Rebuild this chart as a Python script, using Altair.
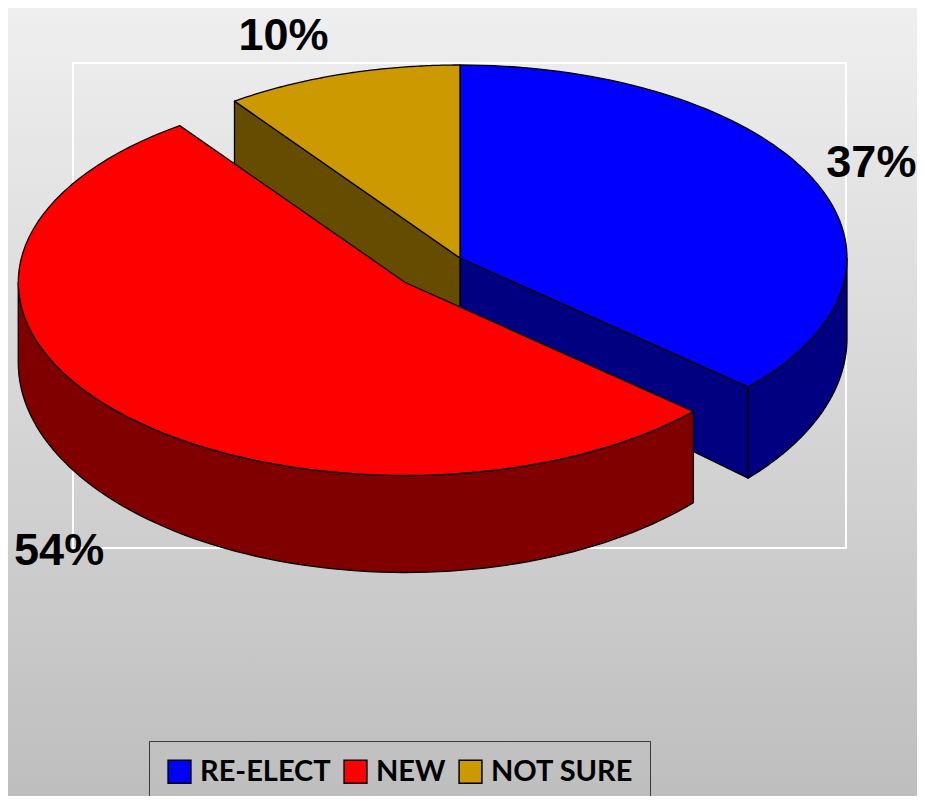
import altair as alt
import pandas as pd

# ---- data ----
categories = ["RE-ELECT", "NEW", "NOT SURE"]
values = [37, 54, 10]
exploded = ["NEW"]

# ---- styles ----
top_colors = ["#0000FF", "#FF0000", "#CC9900"]
side_colors = ["#000080", "#800000", "#664C00"]

W, H = 909, 788
CX, CY = 452, 250      # pie centre (px)
RX, RY = 387, 193      # ellipse radii (px)
D0, DS = 80, 17        # extrusion depth and perspective change
EXPL = 0.19            # explode distance (fraction of radius)
N = 80                 # points per arc

df = pd.DataFrame({"category": categories, "value": values,
                   "idx": list(range(len(categories)))})

X = alt.X("x:Q", scale=alt.Scale(domain=[0, W], nice=False, zero=False), axis=None)
Y = alt.Y("y:Q", scale=alt.Scale(domain=[0, H], nice=False, zero=False, reverse=True), axis=None)

base = (
    alt.Chart(df)
    .transform_window(cum="sum(value)", sort=[alt.SortField("idx")], frame=[None, 0])
    .transform_joinaggregate(total="sum(value)")
    .transform_calculate(
        a1="2*PI*(datum.cum - datum.value)/datum.total",
        a2="2*PI*datum.cum/datum.total",
    )
    .transform_calculate(
        mid="(datum.a1 + datum.a2)/2",
        e=f"indexof({exploded!r}, datum.category) >= 0 ? {EXPL} : 0",
    )
    .transform_calculate(
        ox=f"{CX} + datum.e*{RX}*sin(datum.mid)",
        oy=f"{CY} - datum.e*{RY}*cos(datum.mid)",
    )
)

side_fill = alt.Fill("category:N", scale=alt.Scale(domain=categories, range=side_colors), legend=None)

# radial cut faces that face the viewer
faces = (
    base.transform_calculate(side="[0, 1]")
    .transform_flatten(["side"])
    .transform_calculate(fa="datum.side == 0 ? datum.a1 : datum.a2")
    .transform_filter("(datum.side == 0 && sin(datum.fa) < -0.001) || (datum.side == 1 && sin(datum.fa) > 0.001)")
    .transform_calculate(key="datum.category + '-' + datum.side", pts="sequence(0, 5)")
    .transform_flatten(["pts"], as_=["k"])
    .transform_calculate(edge="datum.k == 1 || datum.k == 2", dn="datum.k == 2 || datum.k == 3")
    .transform_calculate(
        x=f"datum.edge ? datum.ox + {RX}*sin(datum.fa) : datum.ox",
        y=f"(datum.edge ? datum.oy - {RY}*cos(datum.fa) : datum.oy) + (datum.dn ? (datum.edge ? {D0} - {DS}*cos(datum.fa) : {D0}) : 0)",
    )
    .mark_line(stroke="black", strokeWidth=1.3, strokeJoin="round")
    .encode(x=X, y=Y, order="k:Q", detail="key:N", fill=side_fill)
)

# outer walls (front half only)
walls = (
    base.transform_calculate(b1="max(datum.a1, PI/2)", b2="min(datum.a2, 3*PI/2)")
    .transform_filter("datum.b2 > datum.b1")
    .transform_calculate(pts=f"sequence(0, {2 * N + 3})")
    .transform_flatten(["pts"], as_=["k"])
    .transform_calculate(
        bot=f"datum.k > {N} && datum.k <= {2 * N + 1}",
        ang=(f"datum.k <= {N} ? datum.b1 + (datum.b2 - datum.b1)*datum.k/{N} : "
             f"(datum.k <= {2 * N + 1} ? datum.b2 - (datum.b2 - datum.b1)*(datum.k - {N + 1})/{N} : datum.b1)"),
    )
    .transform_calculate(
        x=f"datum.ox + {RX}*sin(datum.ang)",
        y=f"datum.oy - {RY}*cos(datum.ang) + (datum.bot ? {D0} - {DS}*cos(datum.ang) : 0)",
    )
    .mark_line(stroke="black", strokeWidth=1.3, strokeJoin="round")
    .encode(x=X, y=Y, order="k:Q", detail="category:N", fill=side_fill)
)

# top faces
top = (
    base.transform_calculate(pts=f"sequence(0, {N + 3})")
    .transform_flatten(["pts"], as_=["k"])
    .transform_calculate(
        ang=f"datum.a1 + (datum.a2 - datum.a1)*clamp((datum.k - 1)/{N}, 0, 1)",
        isc=f"datum.k == 0 || datum.k == {N + 2}",
    )
    .transform_calculate(
        x=f"datum.isc ? datum.ox : datum.ox + {RX}*sin(datum.ang)",
        y=f"datum.isc ? datum.oy : datum.oy - {RY}*cos(datum.ang)",
    )
    .mark_line(stroke="black", strokeWidth=1.3, strokeJoin="round")
    .encode(
        x=X, y=Y, order="k:Q", detail="category:N",
        fill=alt.Fill(
            "category:N",
            scale=alt.Scale(domain=categories, range=top_colors),
            sort=categories,
            legend=alt.Legend(
                title=None, orient="none", legendX=141, legendY=733,
                direction="horizontal", symbolType="square", symbolSize=520,
                symbolStrokeColor="black", symbolStrokeWidth=1.5, symbolOpacity=1,
                labelFont="Lato", labelFontSize=29, labelFontWeight="bold",
                labelColor="black", labelOffset=6, columnPadding=10,
                padding=16, strokeColor="#3a3a3a",
            ),
        ),
    )
)

# data labels: just outside the rim, below the wall for the front slices
labels = (
    base.transform_calculate(
        x=f"datum.ox + {RX}*sin(datum.mid) + (sin(datum.mid) < 0 ? -58 : 58)",
        y=(f"datum.oy - {RY}*cos(datum.mid) - 40*cos(datum.mid)"
           f" + (cos(datum.mid) < 0 ? {D0} - {DS}*cos(datum.mid) + 22 : 0)"),
        label="datum.value + '%'",
    )
    .mark_text(font="Liberation Sans", fontSize=45, fontWeight="bold", color="black",
               align="center", baseline="middle")
    .encode(x=X, y=Y, text="label:N")
)

one = pd.DataFrame({"a": [0]})
bg = alt.Chart(one).mark_rect(
    fill=alt.Gradient(
        gradient="linear",
        stops=[alt.GradientStop(color="#EFEFEF", offset=0),
               alt.GradientStop(color="#BEBEBE", offset=1)],
        x1=0, x2=0, y1=0, y2=1,
    )
).encode(x=alt.value(0), x2=alt.value(W), y=alt.value(0), y2=alt.value(H))

frame = alt.Chart(one).mark_rect(fillOpacity=0, stroke="white", strokeWidth=2).encode(
    x=alt.value(65), x2=alt.value(838), y=alt.value(55), y2=alt.value(540)
)

chart = (
    alt.layer(bg, frame, faces, walls, top, labels)
    .resolve_scale(fill="independent")
    .properties(width=W, height=H, padding=0, autosize="none")
    .configure_view(stroke=None)
)

chart.save("out.html", embed_options={"renderer": "svg", "actions": False})
